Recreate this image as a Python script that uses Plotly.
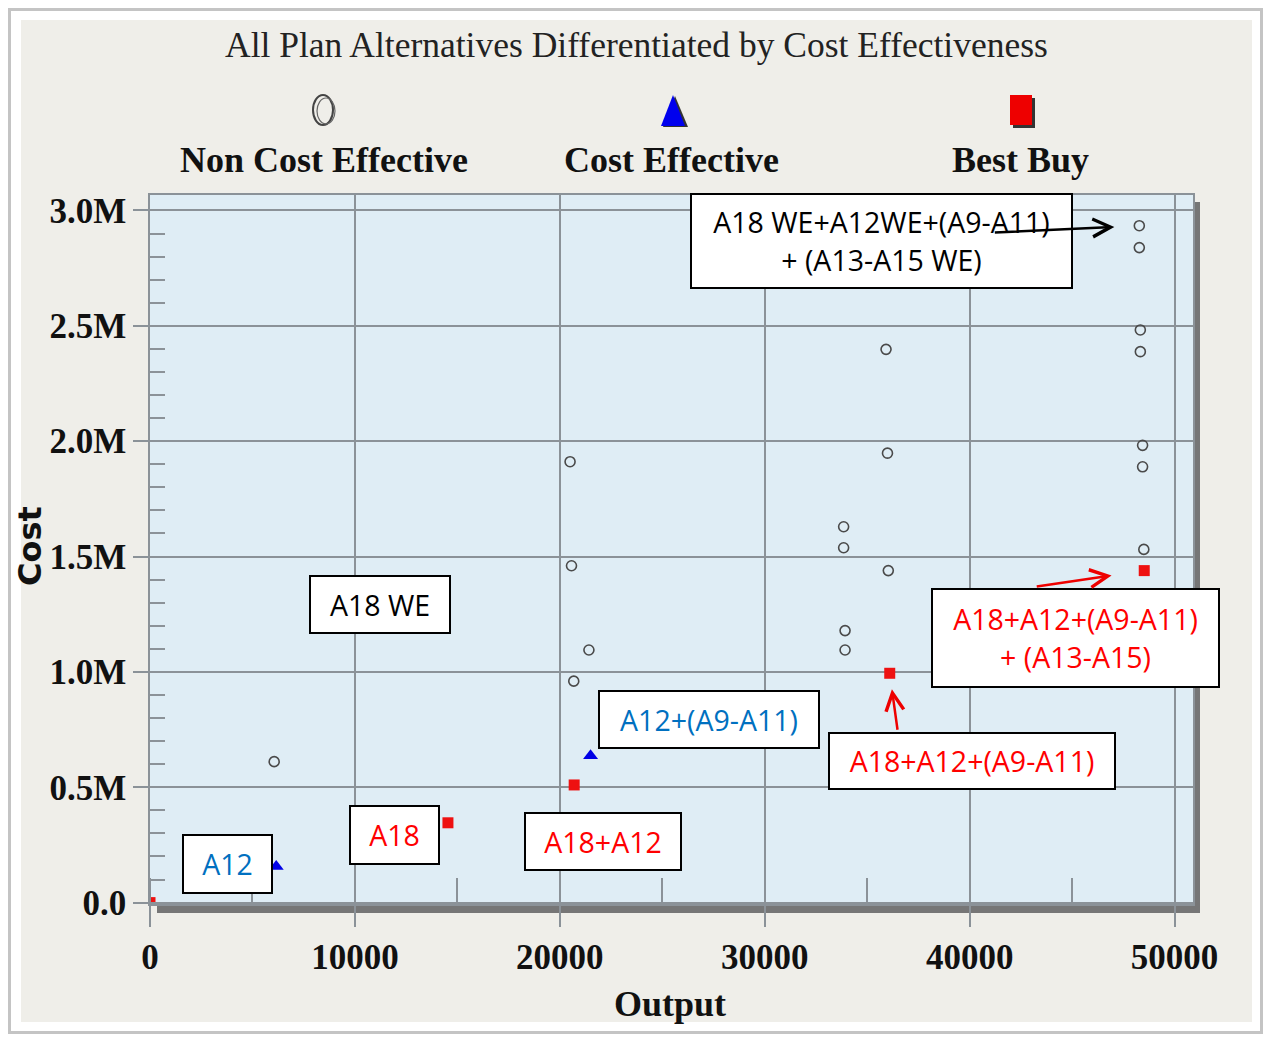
import plotly.graph_objects as go

# ---------------- data ----------------
nce_output = [6060, 20500, 20570, 21420, 20680, 35920, 35990, 33850, 33850, 36030,
              33920, 33920, 48280, 48280, 48330, 48330, 48440, 48440, 48500]
nce_cost = [611000, 1911000, 1460000, 1095000, 960000, 2398000, 1948000, 1629000,
            1538000, 1439000, 1179000, 1095000, 2934000, 2839000, 2482000, 2388000,
            1982000, 1889000, 1531000]

ce_output = [6160, 21500]
ce_cost = [156000, 637000]

bb_output = [0, 14540, 20700, 36100, 48520]
bb_cost = [0, 346000, 510000, 994000, 1439000]

x_tickvals = [0, 10000, 20000, 30000, 40000, 50000]
x_ticktext = ["0", "10000", "20000", "30000", "40000", "50000"]
y_tickvals = [0, 500000, 1000000, 1500000, 2000000, 2500000, 3000000]
y_ticktext = ["0.0", "0.5M", "1.0M", "1.5M", "2.0M", "2.5M", "3.0M"]

legend_labels = ["Non Cost Effective", "Cost Effective", "Best Buy"]
title_text = "All Plan Alternatives Differentiated by Cost Effectiveness"
x_title = "Output"
y_title = "Cost"

box_texts = ["A18 WE+A12WE+(A9-A11)<br>+ (A13-A15 WE)", "A18 WE", "A12", "A18",
             "A18+A12", "A12+(A9-A11)", "A18+A12+(A9-A11)",
             "A18+A12+(A9-A11)<br>+ (A13-A15)"]
box_colors = ["#000000", "#000000", "#0070C0", "#FF0000",
              "#FF0000", "#0070C0", "#FF0000", "#FF0000"]

# ---------------- geometry helpers ----------------
OFF = 8                      # default body margin of the html page
FIG_W, FIG_H = 1255, 1026
PL, PT, PW, PH = 142, 187, 1043, 709   # plot area in figure pixels


def px(sx):
    return (sx - OFF - PL) / PW


def py(sy):
    return (PT + PH - (sy - OFF)) / PH


SERIF = "Liberation Serif"
SANS = "Open Sans"
GRID = "#8b9298"

fig = go.Figure()

fig.add_trace(go.Scatter(x=nce_output, y=nce_cost, mode="markers", name=legend_labels[0],
                         marker=dict(symbol="circle-open", size=10, color="#4a4a4a",
                                     line=dict(width=1.6, color="#4a4a4a"))))
fig.add_trace(go.Scatter(x=ce_output, y=ce_cost, mode="markers", name=legend_labels[1],
                         marker=dict(symbol="triangle-up", size=13, color="#0000e6")))
fig.add_trace(go.Scatter(x=bb_output, y=bb_cost, mode="markers", name=legend_labels[2],
                         marker=dict(symbol="square", size=11, color="#ee1111")))

shapes = []
# outer frame
shapes.append(dict(type="rect", xref="paper", yref="paper", layer="below",
                   x0=px(9.5), x1=px(1261.5), y0=py(1032.5), y1=py(9.5),
                   line=dict(color="#c4c4c4", width=3), fillcolor="white"))
# gray page
shapes.append(dict(type="rect", xref="paper", yref="paper", layer="below",
                   x0=px(21), x1=px(1252), y0=py(1022), y1=py(20),
                   line=dict(width=0), fillcolor="#efeee9"))
# plot shadow
shapes.append(dict(type="rect", xref="paper", yref="paper", layer="below",
                   x0=px(157), x1=px(1200), y0=py(913), y1=py(202),
                   line=dict(width=0), fillcolor="#767676"))
# plot background
shapes.append(dict(type="rect", xref="paper", yref="paper", layer="below",
                   x0=0, x1=1, y0=0, y1=1,
                   line=dict(width=0), fillcolor="#dfedf5"))

# legend symbols
shapes.append(dict(type="circle", xref="paper", yref="paper", xsizemode="pixel", ysizemode="pixel",
                   xanchor=px(323), yanchor=py(110), x0=-10, x1=10, y0=-15, y1=15,
                   line=dict(color="#444444", width=2)))
shapes.append(dict(type="circle", xref="paper", yref="paper", xsizemode="pixel", ysizemode="pixel",
                   xanchor=px(326), yanchor=py(111), x0=-9, x1=9, y0=-13, y1=13,
                   line=dict(color="#666666", width=1.2)))
shapes.append(dict(type="path", xref="paper", yref="paper", xsizemode="pixel", ysizemode="pixel",
                   xanchor=px(675), yanchor=py(112), path="M-12,-15 L13,-15 L0,16 Z",
                   line=dict(width=0), fillcolor="#333333"))
shapes.append(dict(type="path", xref="paper", yref="paper", xsizemode="pixel", ysizemode="pixel",
                   xanchor=px(673), yanchor=py(111), path="M-12,-15 L12,-15 L0,16 Z",
                   line=dict(width=0), fillcolor="#0000ee"))
shapes.append(dict(type="rect", xref="paper", yref="paper", xsizemode="pixel", ysizemode="pixel",
                   xanchor=px(1024), yanchor=py(113), x0=-11, x1=11, y0=-15, y1=15,
                   line=dict(width=0), fillcolor="#333333"))
shapes.append(dict(type="rect", xref="paper", yref="paper", xsizemode="pixel", ysizemode="pixel",
                   xanchor=px(1021), yanchor=py(110), x0=-11, x1=11, y0=-15, y1=15,
                   line=dict(width=0), fillcolor="#ee0000"))

annotations = []
annotations.append(dict(xref="paper", yref="paper", x=px(636), y=py(45), showarrow=False,
                        text=title_text, xanchor="center", yanchor="middle",
                        font=dict(family=SERIF, size=35.5, color="#222222")))
for lab, cx in zip(legend_labels, [324, 671, 1020]):
    annotations.append(dict(xref="paper", yref="paper", x=px(cx), y=py(160), showarrow=False,
                            text=lab, xanchor="center", yanchor="middle",
                            font=dict(family=SERIF, size=36, color="#111111", weight="bold")))
annotations.append(dict(xref="paper", yref="paper", x=px(670), y=py(1004), showarrow=False,
                        text=x_title, xanchor="center", yanchor="middle",
                        font=dict(family=SERIF, size=36, color="#111111", weight="bold")))
annotations.append(dict(xref="paper", yref="paper", x=px(30), y=py(546), showarrow=False,
                        text=y_title, textangle=-90, xanchor="center", yanchor="middle",
                        font=dict(family="DejaVu Sans", size=32, color="#111111", weight="bold")))

# label boxes (screen pixel boxes: x0, y0, x1, y1)
boxes = [(690, 193, 1072, 288), (309, 575, 450, 633), (182, 834, 272, 893),
         (349, 805, 439, 864), (524, 812, 681, 870), (598, 690, 819, 748),
         (828, 732, 1115, 789), (931, 588, 1219, 687)]
for (x0, y0, x1, y1), txt, col in zip(boxes, box_texts, box_colors):
    annotations.append(dict(xref="paper", yref="paper", x=px(x0), y=py(y0),
                            xanchor="left", yanchor="top", showarrow=False,
                            text=txt, width=x1 - x0 - 3, height=y1 - y0 - 3,
                            align="center", valign="middle", bgcolor="white",
                            bordercolor="black", borderwidth=2, borderpad=0,
                            font=dict(family=SANS, size=28.5, color=col)))

# arrows pointing at data points
annotations.append(dict(x=nce_output[12], y=nce_cost[12], xref="x", yref="y", text="",
                        showarrow=True, ax=-146, ay=7, standoff=25, arrowhead=5,
                        arrowsize=1.4, arrowwidth=2.5, arrowcolor="black"))
annotations.append(dict(x=bb_output[3], y=bb_cost[3], xref="x", yref="y", text="",
                        showarrow=True, ax=8, ay=58, standoff=16, arrowhead=5,
                        arrowsize=1.4, arrowwidth=2.5, arrowcolor="#ee0000"))
annotations.append(dict(x=bb_output[4], y=bb_cost[4], xref="x", yref="y", text="",
                        showarrow=True, ax=-109, ay=16, standoff=33, arrowhead=5,
                        arrowsize=1.4, arrowwidth=2.5, arrowcolor="#ee0000"))

fig.update_layout(
    width=FIG_W, height=FIG_H,
    margin=dict(l=PL, r=FIG_W - PL - PW, t=PT, b=FIG_H - PT - PH, pad=0),
    paper_bgcolor="white", plot_bgcolor="rgba(0,0,0,0)",
    showlegend=False,
    shapes=shapes, annotations=annotations,
)
fig.update_xaxes(range=[0, 50900], tickvals=x_tickvals, ticktext=x_ticktext,
                 showgrid=True, gridcolor=GRID, gridwidth=1.5, zeroline=False,
                 showline=True, mirror=True, linecolor=GRID, linewidth=1.5,
                 ticks="outside", ticklen=21, tickwidth=1.5, tickcolor=GRID,
                 tickfont=dict(family=SERIF, size=35, color="#111111", weight="bold"),
                 minor=dict(dtick=5000, ticks="inside", ticklen=26, tickwidth=1.5,
                            tickcolor=GRID, showgrid=False))
fig.update_yaxes(range=[-6000, 3067000], tickvals=y_tickvals, ticktext=y_ticktext,
                 showgrid=True, gridcolor=GRID, gridwidth=1.5, zeroline=False,
                 showline=True, mirror=True, linecolor=GRID, linewidth=1.5,
                 ticks="outside", ticklen=15, tickwidth=1.5, tickcolor=GRID,
                 tickfont=dict(family=SERIF, size=35, color="#111111", weight="bold"),
                 minor=dict(dtick=100000, ticks="inside", ticklen=15, tickwidth=1.5,
                            tickcolor=GRID, showgrid=False))

fig.write_html("out.html")
